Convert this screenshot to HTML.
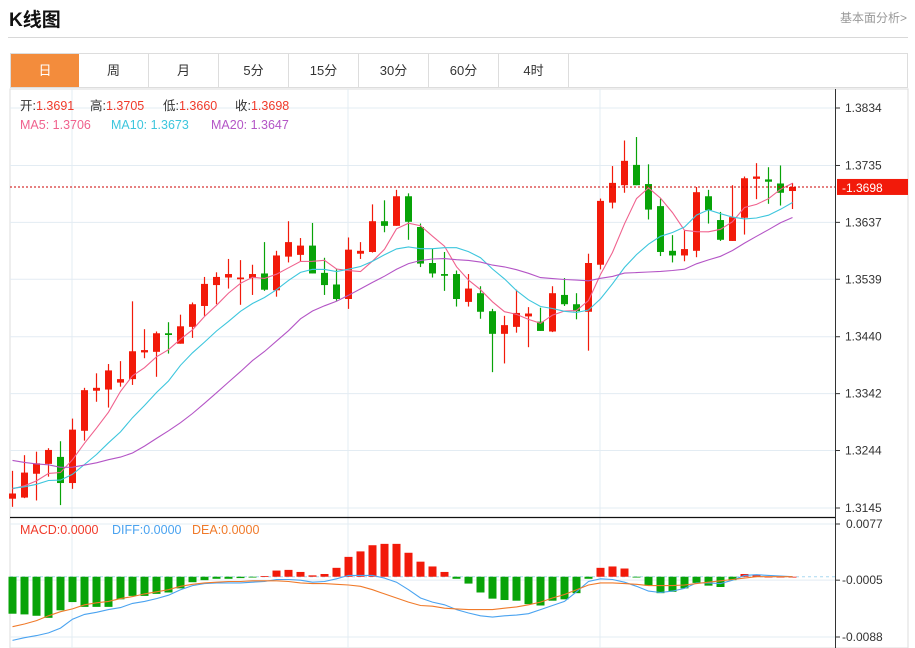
<!DOCTYPE html>
<html><head><meta charset="utf-8">
<style>
body{margin:0;background:#fff;font-family:"Liberation Sans","Noto Sans CJK SC",sans-serif;}
#wrap{position:relative;width:915px;height:648px;overflow:hidden;}
.title{position:absolute;left:9px;top:5px;font-size:19px;font-weight:bold;color:#111;}
.more{position:absolute;right:8px;top:9px;font-size:12px;color:#999;}
.hline{position:absolute;left:8px;top:37px;width:900px;height:1px;background:#d8d8d8;}
.tabs{position:absolute;left:10px;top:53px;width:898px;height:35px;border:1px solid #ddd;box-sizing:border-box;display:flex;}
.tab{width:70px;height:100%;border-right:1px solid #ddd;box-sizing:border-box;text-align:center;line-height:34px;font-size:13px;color:#333;}
.tab.on{background:#f38c3c;color:#fff;border-right:none;}
svg{position:absolute;left:0;top:0;}
</style></head><body>
<div id="wrap">
<div class="title">K线图</div>
<div class="more">基本面分析&gt;</div>
<div class="hline"></div>
<div class="tabs">
<div class="tab on" style="width:68px">日</div>
<div class="tab">周</div>
<div class="tab">月</div>
<div class="tab">5分</div>
<div class="tab">15分</div>
<div class="tab">30分</div>
<div class="tab">60分</div>
<div class="tab">4时</div>
</div>
<svg id="chart" width="915" height="648"></svg>
</div>
<script>
const opens=[1.3161,1.3163,1.3204,1.3221,1.3233,1.3188,1.3278,1.3347,1.3349,1.3361,1.3367,1.3413,1.3414,1.3446,1.3428,1.3457,1.3493,1.3529,1.3542,1.3539,1.3541,1.3549,1.3520,1.3578,1.3581,1.3597,1.3550,1.3530,1.3505,1.3583,1.3586,1.3639,1.3631,1.3682,1.3629,1.3567,1.3548,1.3548,1.3500,1.3515,1.3484,1.3445,1.3457,1.3475,1.3466,1.3449,1.3512,1.3496,1.3483,1.3564,1.3671,1.3701,1.3736,1.3703,1.3665,1.3588,1.3580,1.3588,1.3682,1.3641,1.3605,1.3645,1.3712,1.3711,1.3704,1.3691];
const highs=[1.3209,1.3236,1.3242,1.3248,1.3260,1.3299,1.3352,1.3377,1.3393,1.3398,1.3501,1.3453,1.3449,1.3465,1.3478,1.3499,1.3543,1.3551,1.3574,1.3572,1.3564,1.3603,1.3588,1.3639,1.3610,1.3636,1.3576,1.3556,1.3611,1.3603,1.3668,1.3675,1.3693,1.3687,1.3635,1.3592,1.3586,1.3554,1.3548,1.3527,1.3488,1.3476,1.3521,1.3491,1.3490,1.3527,1.3541,1.3515,1.3583,1.3678,1.3734,1.3778,1.3784,1.3737,1.3678,1.3615,1.3623,1.3698,1.3693,1.3655,1.3701,1.3716,1.3739,1.3732,1.3735,1.3705];
const lows=[1.3147,1.3162,1.3158,1.3199,1.3150,1.3178,1.3261,1.3328,1.3318,1.3354,1.3357,1.3403,1.3371,1.3411,1.3428,1.3438,1.3476,1.3496,1.3523,1.3495,1.3512,1.3519,1.3509,1.3568,1.3569,1.3549,1.3512,1.3502,1.3488,1.3574,1.3585,1.3620,1.3631,1.3607,1.3560,1.3542,1.3519,1.3492,1.3492,1.3471,1.3379,1.3394,1.3447,1.3422,1.3450,1.3448,1.3493,1.3470,1.3416,1.3556,1.3661,1.3688,1.3701,1.3642,1.3579,1.3568,1.3570,1.3577,1.3635,1.3605,1.3605,1.3616,1.3677,1.3669,1.3666,1.3660];
const closes=[1.3170,1.3206,1.3222,1.3245,1.3188,1.3280,1.3348,1.3352,1.3382,1.3367,1.3415,1.3417,1.3446,1.3443,1.3458,1.3496,1.3531,1.3543,1.3548,1.3542,1.3548,1.3521,1.3580,1.3603,1.3597,1.3549,1.3529,1.3505,1.3590,1.3588,1.3639,1.3631,1.3682,1.3638,1.3566,1.3549,1.3545,1.3505,1.3523,1.3483,1.3445,1.3460,1.3481,1.3480,1.3450,1.3515,1.3496,1.3484,1.3567,1.3674,1.3705,1.3743,1.3701,1.3659,1.3586,1.3580,1.3591,1.3689,1.3658,1.3607,1.3646,1.3713,1.3716,1.3707,1.3688,1.3698];
const priorCloses=[1.3275,1.3275,1.3275,1.3275,1.3275,1.3275,1.3275,1.3275,1.3275,1.3275,1.3180,1.3180,1.3180,1.3180,1.3180,1.3180,1.3180,1.3180,1.3180];
const macdVals=[-0.0054,-0.0055,-0.0057,-0.0060,-0.0049,-0.0037,-0.0044,-0.0044,-0.0044,-0.0033,-0.0028,-0.0028,-0.0025,-0.0023,-0.0017,-0.0008,-0.0005,-0.0003,-0.0003,-0.0002,-0.0001,0.0001,0.0009,0.0010,0.0007,0.0002,0.0004,0.0013,0.0029,0.0037,0.0046,0.0048,0.0048,0.0035,0.0022,0.0015,0.0007,-0.0003,-0.0010,-0.0023,-0.0032,-0.0034,-0.0035,-0.0040,-0.0042,-0.0035,-0.0033,-0.0024,-0.0003,0.0013,0.0015,0.0012,-0.0001,-0.0013,-0.0024,-0.0022,-0.0017,-0.0009,-0.0013,-0.0015,-0.0005,0.0004,0.0002,0.0000,0.0000,0.0000];
const diffVals=[-0.0093,-0.0089,-0.0086,-0.0082,-0.0075,-0.0062,-0.0055,-0.0052,-0.0048,-0.0045,-0.0039,-0.0036,-0.0032,-0.0027,-0.0019,-0.0013,-0.0010,-0.0009,-0.0009,-0.0009,-0.0008,-0.0007,-0.0004,-0.0004,-0.0005,-0.0008,-0.0007,-0.0003,0.0002,0.0002,0.0002,-0.0002,-0.0008,-0.0019,-0.0031,-0.0037,-0.0041,-0.0048,-0.0053,-0.0057,-0.0059,-0.0057,-0.0056,-0.0054,-0.0048,-0.0042,-0.0036,-0.0022,-0.0007,-0.0003,-0.0004,-0.0008,-0.0014,-0.0021,-0.0023,-0.0021,-0.0017,-0.0009,-0.0009,-0.0010,-0.0005,0.0002,0.0003,0.0002,0.0001,0.0000];
const deaVals=[-0.0073,-0.0069,-0.0064,-0.0057,-0.0051,-0.0047,-0.0041,-0.0038,-0.0036,-0.0032,-0.0029,-0.0025,-0.0022,-0.0019,-0.0014,-0.0011,-0.0009,-0.0008,-0.0007,-0.0007,-0.0006,-0.0006,-0.0006,-0.0007,-0.0009,-0.0010,-0.0010,-0.0011,-0.0012,-0.0014,-0.0019,-0.0025,-0.0031,-0.0037,-0.0042,-0.0043,-0.0046,-0.0047,-0.0048,-0.0048,-0.0048,-0.0046,-0.0044,-0.0041,-0.0037,-0.0031,-0.0026,-0.0019,-0.0012,-0.0009,-0.0009,-0.0010,-0.0011,-0.0013,-0.0013,-0.0013,-0.0012,-0.0010,-0.0008,-0.0006,-0.0004,-0.0002,0.0000,0.0000,0.0000,0.0000];
const priceTicks=[1.3834,1.3735,1.3637,1.3539,1.3440,1.3342,1.3244,1.3145];
const macdTicks=[0.0077,-0.0005,-0.0088];
const lastPrice=1.3698;

const NS='http://www.w3.org/2000/svg';
const svg=document.getElementById('chart');
const L=10,R=835;
const yP=p=>108+(1.3834-p)/0.0689*400;
const yM=v=>524+(0.0077-v)/0.0165*113;
const xC=i=>12.5+12*i;
function mk(tag,attrs,parent){const e=document.createElementNS(NS,tag);for(const k in attrs)e.setAttribute(k,attrs[k]);(parent||svg).appendChild(e);return e;}

let g=mk('g',{});


mk('rect',{x:L,y:89,width:898,height:559,fill:'none',stroke:'#ddd'},g);
priceTicks.forEach(t=>{mk('line',{x1:L,x2:R,y1:yP(t),y2:yP(t),stroke:'#e3ecf3'},g);});
macdTicks.forEach(t=>{mk('line',{x1:L,x2:R,y1:yM(t),y2:yM(t),stroke:'#e3ecf3'},g);});
[72,348,600].forEach(x=>{mk('line',{x1:x,x2:x,y1:89,y2:648,stroke:'#e3ecf3'},g);});
mk('line',{x1:L,x2:R,y1:517.5,y2:517.5,stroke:'#111','stroke-width':1.2},g);
mk('line',{x1:R+0.5,x2:R+0.5,y1:89,y2:648,stroke:'#333'},g);

const ax=mk('g',{'font-size':12,fill:'#333'});


priceTicks.forEach(t=>{const y=yP(t);mk('line',{x1:R,x2:R+5,y1:y,y2:y,stroke:'#333'},ax);const tx=mk('text',{x:845,y:y+4},ax);tx.textContent=t.toFixed(4);});
const mx=mk('g',{'font-size':12,fill:'#333'});


macdTicks.forEach(t=>{const y=yM(t);mk('line',{x1:R,x2:R+5,y1:y,y2:y,stroke:'#333'},mx);const tx=mk('text',{x:t<0?842:846,y:y+4},mx);tx.textContent=(t<0?'-':'')+Math.abs(t).toFixed(4);});

const cg=mk('g',{});


opens.forEach((o,i)=>{
  const c=closes[i],up=c>=o,col=up?'#f21a0a':'#08a308',x=xC(i);
  const cd=mk('g',{},cg);
  
  
  mk('line',{x1:x,x2:x,y1:yP(highs[i]),y2:yP(lows[i]),stroke:col,'stroke-width':1.2},cd);
  const t=yP(Math.max(o,c)),b=yP(Math.min(o,c));
  mk('rect',{x:x-3.5,y:t,width:7,height:Math.max(1.5,b-t),fill:col},cd);
});

const all=priorCloses.concat(closes),off=priorCloses.length;
function ma(n){return closes.map((_,i)=>{let s=0;for(let k=0;k<n;k++)s+=all[off+i-k];return s/n;});}
[[5,'#f0628e','ma5-line'],[10,'#3dc6dd','ma10-line'],[20,'#b455c6','ma20-line']].forEach(([n,col,name])=>{
  const v=ma(n);
  const p=mk('polyline',{points:v.map((m,i)=>xC(i)+','+yP(m).toFixed(1)).join(' '),fill:'none',stroke:col,'stroke-width':1.1});
  
  
});

const lp=yP(lastPrice);
const lpl=mk('line',{x1:L,x2:R,y1:lp,y2:lp,stroke:'#c00','stroke-dasharray':'2,2'});


const lb=mk('g',{});


mk('rect',{x:837,y:lp-8,width:71,height:16,fill:'#f21a0a'},lb);
const lbt=mk('text',{x:842,y:lp+5,'font-size':12,fill:'#fff'},lb);lbt.textContent='-'+lastPrice.toFixed(4);

const mg=mk('g',{});


const z=yM(0);
mk('line',{x1:L,x2:R,y1:z,y2:z,stroke:'#a8d8f0','stroke-dasharray':'3,3'},mg);
macdVals.forEach((v,i)=>{
  const y=yM(v);
  const r=mk('rect',{x:xC(i)-4,y:Math.min(y,z),width:8,height:Math.max(0.8,Math.abs(y-z)),fill:v>=0?'#f21a0a':'#08a308'},mg);
  
  
});
[[diffVals,'#4aa3f0','diff-line'],[deaVals,'#f07a2a','dea-line']].forEach(([arr,col,name])=>{
  const p=mk('polyline',{points:arr.map((m,i)=>xC(i)+','+yM(m).toFixed(1)).join(' '),fill:'none',stroke:col,'stroke-width':1.1});
  
  
});

function legend(y,items,name){
  const lg=mk('g',{'font-size':12.5});
  
  
  items.forEach(([x,parts])=>{const t=mk('text',{x:x,y:y},lg);parts.forEach(([s,c])=>{const sp=mk('tspan',{fill:c},t);sp.textContent=s;});});
}
legend(110,[[20,[['开:','#333'],['1.3691','#f03a2a']]],[90,[['高:','#333'],['1.3705','#f03a2a']]],[163,[['低:','#333'],['1.3660','#f03a2a']]],[235,[['收:','#333'],['1.3698','#f03a2a']]]],'ohlc-legend');
legend(129,[[20,[['MA5: 1.3706','#f0628e']]],[111,[['MA10: 1.3673','#3dc6dd']]],[211,[['MA20: 1.3647','#b455c6']]]],'ma-legend');
legend(534,[[20,[['MACD:0.0000','#f03a2a']]],[112,[['DIFF:0.0000','#4aa3f0']]],[192,[['DEA:0.0000','#f07a2a']]]],'macd-legend');
</script>
</body></html>
